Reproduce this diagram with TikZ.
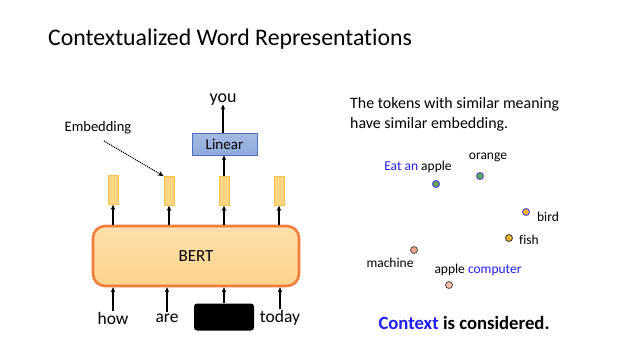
\documentclass[tikz,border=0pt]{standalone}
\usepackage{fontspec}
\setmainfont{Carlito}[Ligatures=NoCommon]
\usetikzlibrary{arrows.meta,shadings}
\definecolor{bertfill}{HTML}{FDD38A}
\definecolor{bertline}{HTML}{F07D3A}
\definecolor{embfill}{HTML}{FFD582}
\definecolor{embline}{HTML}{F8C04A}
\definecolor{linfill}{HTML}{8EA9DB}
\definecolor{linline}{HTML}{4A72BD}
\definecolor{ctxblue}{HTML}{1F1FF0}
\definecolor{dotgreen}{HTML}{6AA84F}
\definecolor{dotorange}{HTML}{F5B32A}
\definecolor{dotsalmon}{HTML}{F2A58A}
\definecolor{dotsalmonl}{HTML}{F4BFA3}
\tikzset{
  emb/.style={draw=embline, fill=embfill, minimum width=10pt, minimum height=29pt, inner sep=0pt, line width=0.6pt},
  arr/.style={-{Stealth[length=5pt,width=4.5pt]}, line width=1.1pt},
  word/.style={font=\fontsize{17.5}{21}\selectfont, inner sep=0pt},
  lbl/.style={font=\fontsize{13.5}{16}\selectfont, inner sep=1pt},
  dot/.style={circle, minimum size=7pt, inner sep=0pt, line width=0.8pt},
}
\begin{document}
\begin{tikzpicture}[x=1pt,y=-1pt]
\useasboundingbox (0,0) rectangle (641,359);
% title
\node[anchor=base west, inner sep=0pt, font=\fontsize{23.8}{28}\selectfont] (title) at (48,45) {Contextualized Word Representations};
% BERT
\node[draw=bertline, line width=2.6pt, rounded corners=12pt, top color=bertfill!70!white, bottom color=bertfill, minimum width=206pt, minimum height=60pt, font=\fontsize{17}{20}\selectfont] (bert) at (196,256) {BERT};
% embeddings
\node[emb] (e1) at (113,190) {};
\node[emb] (e2) at (169,191) {};
\node[emb] (e3) at (224,191) {};
\node[emb] (e4) at (279,191) {};
\foreach \i in {1,2,3,4}{\draw[arr] (bert.north -| e\i) -- (e\i.south);}
% inputs
\node[word] (w1) at (113,318) {how};
\node[word] (w2) at (167,318) {are};
\node[fill=black, rounded corners=3pt, minimum width=60pt, minimum height=27pt, inner sep=0pt] (w3) at (224,317) {};
\node[word] (w4) at (280,318) {today};
\draw[arr] (w1.north) ++(0,-1) coordinate (c1) (c1) -- (c1 |- bert.south);
\draw[arr] (w2.north) ++(0,-1) coordinate (c2) (c2) -- (c2 |- bert.south);
\draw[arr] (w3.north) -- (w3.north |- bert.south);
\draw[arr] (w4.north) ++(0,-1) coordinate (c4) (c4) -- (c4 |- bert.south);
% linear
\node[draw=linline, line width=0.8pt, top color=linfill!80!white, bottom color=linfill, minimum width=65pt, minimum height=22pt, font=\fontsize{15}{18}\selectfont, inner sep=0pt] (lin) at (224.5,144) {Linear};
\draw[arr] (e3.north) -- (lin.south -| e3.north);
\node[word, font=\fontsize{18}{21}\selectfont] (you) at (223,99.5) {you};
\draw[arr] (lin.north -| you.south) -- ([yshift=1pt]you.south);
% embedding label
\node[lbl, font=\fontsize{14.5}{17}\selectfont] (embl) at (98,128) {Embedding};
\draw[-{Stealth[length=6pt,width=5pt]}, line width=1.2pt, dash pattern=on 1pt off 1pt] (104,141) -- (e2.north west);
% right side
\node[anchor=north west, align=left, inner sep=0pt, font=\fontsize{15.9}{20}\selectfont] (note) at (350,97) {The tokens with similar meaning\\have similar embedding.};
\node[dot, draw=blue!80, fill=dotgreen] (d1) at (436,184) {};
\node[dot, draw=blue!80, fill=dotgreen] (d2) at (480,176) {};
\node[dot, draw=blue!80, fill=dotorange] (d3) at (526,212) {};
\node[dot, draw=black!80, fill=dotorange] (d4) at (509,238) {};
\node[dot, draw=black!70, fill=dotsalmon] (d5) at (414,250) {};
\node[dot, draw=black!70, fill=dotsalmonl] (d6) at (449,285) {};
\node[lbl] (l1) at (418,167) {\textcolor{ctxblue}{Eat an} apple};
\node[lbl] (l2) at (488,157) {orange};
\node[lbl] (l3) at (548,217) {bird};
\node[lbl] (l4) at (529,240) {fish};
\node[lbl] (l5) at (390,263) {machine};
\node[lbl] (l6) at (478,270) {apple \textcolor{ctxblue}{computer}};
\node[inner sep=0pt, font=\bfseries\fontsize{18.7}{22}\selectfont] (ctx) at (464,323) {\textcolor{ctxblue}{Context} is considered.};
\end{tikzpicture}
\end{document}
